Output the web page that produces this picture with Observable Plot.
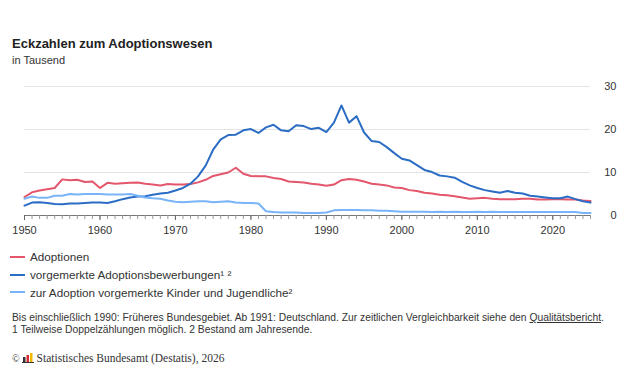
<!DOCTYPE html>
<html lang="de">
<head>
<meta charset="utf-8">
<script src="https://cdn.jsdelivr.net/npm/d3@7"></script>
<script src="https://cdn.jsdelivr.net/npm/@observablehq/plot@0.6"></script>
<style>
  html, body { margin: 0; padding: 0; background: #fff; }
  body { width: 630px; height: 380px; position: relative; overflow: hidden;
         font-family: "Liberation Sans", Arial, sans-serif; color: #222; }
  .abs { position: absolute; left: 12px; white-space: nowrap; }
  #title { top: 36px; font-size: 13px; font-weight: bold; line-height: 16px; color: #222; }
  #subtitle { top: 53px; font-size: 11px; line-height: 14px; color: #333; }
  #chart { position: absolute; left: 0; top: 75px; }
  #legend { position: absolute; left: 10px; top: 248px; font-size: 11.7px; color: #333; }
  .item { height: 17.8px; line-height: 17.8px; display: flex; align-items: center; }
  .swatch { width: 15px; height: 2px; margin-right: 5px; }
  #notes { top: 312px; font-size: 10.3px; line-height: 12px; color: #333; }
  #notes u { text-decoration: underline; }
  #copy { top: 352px; font-family: "Liberation Serif", "Times New Roman", serif; font-size: 11.5px;
          color: #333; display: flex; align-items: center; }
</style>
</head>
<body>
<div id="title" class="abs">Eckzahlen zum Adoptionswesen</div>
<div id="subtitle" class="abs">in Tausend</div>
<div id="chart"></div>
<div id="legend"></div>
<div id="notes" class="abs">Bis einschließlich 1990: Früheres Bundesgebiet. Ab 1991: Deutschland. Zur zeitlichen Vergleichbarkeit siehe den <u>Qualitätsbericht</u>.<br>1 Teilweise Doppelzählungen möglich. 2 Bestand am Jahresende.</div>
<div id="copy" class="abs"><span style="font-size:10px;margin-right:1px">©</span><svg width="12" height="10" viewBox="0 0 12 10" style="margin:0 3px 0 1px"><rect x="0" y="9" width="12" height="1" fill="#333"/><rect x="1" y="4" width="2.5" height="5" fill="#333"/><rect x="4.5" y="2" width="2.5" height="7" fill="#d8282f"/><rect x="8" y="0" width="2.5" height="9" fill="#f2b800"/></svg>Statistisches Bundesamt (Destatis), 2026</div>

<script>
// Jahre 1950–2025
const years = d3.range(1950, 2026);

// Werte in Tausend
const adoptionen = [
  4.3, 5.4, 5.8, 6.1, 6.4, 8.4, 8.2, 8.3, 7.8, 7.9,
  6.4, 7.6, 7.4, 7.5, 7.6, 7.7, 7.4, 7.2, 7.0, 7.3,
  7.2, 7.2, 7.3, 7.7, 8.3, 9.2, 9.6, 10.0, 11.1, 9.7,
  9.2, 9.1, 9.1, 8.7, 8.5, 7.9, 7.8, 7.7, 7.4, 7.2,
  6.9, 7.2, 8.2, 8.5, 8.3, 7.9, 7.4, 7.2, 7.0, 6.5,
  6.4, 5.9, 5.7, 5.3, 5.1, 4.8, 4.7, 4.5, 4.2, 3.9,
  4.0, 4.1, 3.9, 3.8, 3.8, 3.8, 3.9, 3.9, 3.7, 3.7,
  3.8, 3.8, 3.7, 3.7, 3.5, 3.4
];
const bewerbungen = [
  2.3, 3.0, 3.1, 2.9, 2.7, 2.6, 2.8, 2.8, 2.9, 3.0,
  3.0, 2.9, 3.3, 3.8, 4.2, 4.4, 4.5, 4.8, 5.1, 5.3,
  5.8, 6.4, 7.4, 9.1, 11.6, 15.3, 17.7, 18.7, 18.8, 19.8,
  20.1, 19.2, 20.5, 21.1, 19.8, 19.6, 21.0, 20.8, 20.1, 20.4,
  19.4, 21.6, 25.6, 21.6, 23.1, 19.3, 17.3, 17.1, 15.9, 14.5,
  13.2, 12.8, 11.7, 10.6, 10.1, 9.3, 9.1, 8.8, 7.8, 7.0,
  6.4, 5.9, 5.6, 5.3, 5.7, 5.3, 5.1, 4.6, 4.4, 4.2,
  4.0, 4.0, 4.4, 3.8, 3.3, 3.0
];
const kinder = [
  3.9, 4.4, 4.1, 4.1, 4.6, 4.6, 5.0, 4.9, 5.0, 5.0,
  5.0, 4.9, 4.9, 4.9, 5.0, 4.6, 4.2, 4.0, 3.9, 3.5,
  3.2, 3.1, 3.2, 3.3, 3.3, 3.1, 3.2, 3.3, 3.0, 2.9,
  2.9, 2.8, 1.0, 0.8, 0.7, 0.7, 0.7, 0.6, 0.6, 0.6,
  0.7, 1.2, 1.3, 1.3, 1.3, 1.2, 1.2, 1.1, 1.1, 1.0,
  0.9, 0.9, 0.9, 0.9, 0.8, 0.9, 0.8, 0.9, 0.8, 0.8,
  0.9, 0.8, 0.9, 0.8, 0.8, 0.8, 0.8, 0.8, 0.8, 0.8,
  0.8, 0.8, 0.8, 0.8, 0.6, 0.6
];

const seriesNames = [
  "Adoptionen",
  "vorgemerkte Adoptionsbewerbungen¹ ²",
  "zur Adoption vorgemerkte Kinder und Jugendliche²"
];
const seriesColors = ["#e3566b", "#2b6dc5", "#78b4f7"];
const yTicks = [0, 10, 20, 30];
const xTicks = [1950, 1960, 1970, 1980, 1990, 2000, 2010, 2020];

const seriesValues = [adoptionen, bewerbungen, kinder];
const rows = seriesNames.flatMap((name, i) =>
  years.map((year, j) => ({ year, value: seriesValues[i][j], series: name }))
);

const chart = Plot.plot({
  width: 630,
  height: 165,
  marginLeft: 24,
  marginRight: 40,
  marginTop: 11,
  marginBottom: 25,
  style: { fontFamily: "'Liberation Sans', Arial, sans-serif", fontSize: "11px", color: "#333", background: "transparent" },
  x: { domain: [1950, 2025], label: null },
  y: { domain: [0, 30], label: null },
  color: { domain: seriesNames, range: seriesColors },
  marks: [
    Plot.gridY(yTicks, { stroke: "#e4e4e4", strokeOpacity: 1 }),
    Plot.axisY(yTicks, { anchor: "right", label: null, tickSize: 0, tickPadding: 26, textAnchor: "end", fill: "#333" }),
    Plot.ruleY([0], { stroke: "#777" }),
    // jährliche Teilstriche ohne Beschriftung
    Plot.axisX(years, { label: null, tickSize: 4, tickFormat: () => "", stroke: "#999" }),
    Plot.axisX(xTicks, { label: null, tickSize: 5, tickPadding: 6, tickFormat: "d", stroke: "#666", fill: "#333" }),
    Plot.line(rows, { x: "year", y: "value", z: "series", stroke: "series", strokeWidth: 2, strokeLinejoin: "round" })
  ]
});
document.getElementById("chart").appendChild(chart);

// Legende
const legend = document.getElementById("legend");
seriesNames.forEach((name, i) => {
  const item = document.createElement("div");
  item.className = "item";
  const sw = document.createElement("span");
  sw.className = "swatch";
  sw.style.background = seriesColors[i];
  const label = document.createElement("span");
  label.textContent = name;
  item.append(sw, label);
  legend.appendChild(item);
});
</script>
</body>
</html>
